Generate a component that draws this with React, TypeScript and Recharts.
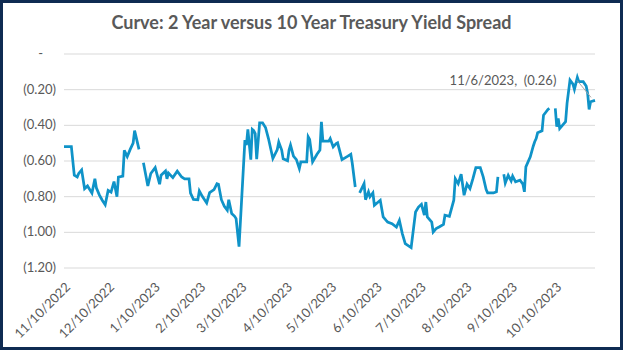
import { CartesianGrid, LabelList, Line, LineChart, XAxis, YAxis } from 'recharts';

const baseDate = Date.UTC(2022, 10, 10);

// days since 11/10/2022, null spread = no quote that day
const days = [
  0, 5, 7, 9, 10, 12, 14, 16, 19, 21, 22, 24, 26, 28, 30, 32, 34, 36, 37, 40,
  41, 43, 45, 47, 48, 51, 52, 54, 57, 59, 62, 65, 66, 69, 70, 71, 74, 77, 80,
  82, 85, 86, 88, 91, 92, 94, 97, 99, 102, 104, 105, 107, 109, 111, 112, 114,
  116, 117, 119, 123, 124, 125, 127, 128, 129, 130, 131, 133, 135, 137, 139,
  142, 145, 146, 148, 149, 152, 153, 154, 156, 158, 160, 161, 165, 166, 167,
  169, 172, 174, 175, 176, 180, 181, 183, 185, 186, 189, 193, 195, 196, 198,
  199, 201, 204, 205, 207, 208, 210, 211, 215, 217, 219, 220, 223, 226, 228,
  230, 232, 236, 239, 241, 243, 245, 246, 247, 250, 251, 253, 255, 258, 259,
  262, 265, 266, 268, 270, 272, 274, 276, 278, 280, 283, 285, 287, 288, 292,
  294, 295, 296, 299, 300, 302, 304, 305, 307, 310, 312, 313, 314, 317, 319,
  320, 321, 322, 325, 326, 329, 330, 331, 334, 335, 336, 337, 339, 341, 342,
  344, 346, 347, 349, 350, 353, 355, 356, 357, 358, 361,
];

const spread = [
  -0.52, -0.52, -0.68, -0.69, -0.67, -0.65, -0.755, -0.74, -0.78, -0.7, -0.75,
  -0.79, -0.82, -0.845, -0.765, -0.775, -0.715, -0.8, -0.69, -0.685, -0.54,
  -0.575, -0.535, -0.5, -0.43, -0.535, null, -0.61, -0.74, -0.67, -0.637,
  -0.73, -0.68, -0.656, -0.7, -0.667, -0.693, -0.657, -0.69, -0.7, -0.7,
  -0.78, -0.815, -0.817, -0.768, -0.798, -0.835, -0.777, -0.76, -0.727, -0.73,
  -0.817, -0.854, -0.876, -0.817, -0.895, -0.91, -0.923, -1.08, -0.483, -0.511,
  -0.423, -0.592, -0.423, -0.43, -0.446, -0.59, -0.386, -0.386, -0.412,
  -0.474, -0.586, -0.536, -0.494, -0.539, -0.588, -0.599, -0.539, -0.511,
  -0.573, -0.592, -0.642, -0.605, -0.605, -0.464, -0.479, -0.605, -0.562,
  -0.539, -0.38, -0.489, -0.489, -0.474, -0.521, -0.502, -0.498, -0.592,
  -0.573, -0.562, -0.614, -0.746, null, -0.779, -0.727, -0.817, -0.773,
  -0.801, -0.779, -0.848, -0.82, -0.914, -0.933, -0.942, -0.951, -0.97,
  -0.933, -1.007, -1.064, -1.086, -0.886, -0.858, -0.843, -0.904, -0.83,
  -0.914, -0.942, -0.998, -0.979, -0.97, -0.955, -0.904, -0.91, -0.82,
  -0.699, -0.727, -0.674, -0.792, -0.73, -0.755, -0.699, -0.637, -0.637,
  -0.689, -0.76, -0.779, -0.779, -0.773, -0.689, null, -0.674, -0.723, -0.68,
  -0.712, -0.685, -0.717, -0.708, -0.73, -0.773, -0.633, -0.577, -0.517,
  -0.492, -0.474, -0.442, -0.431, -0.343, -0.311, -0.305, null, -0.305,
  -0.408, -0.361, -0.418, -0.399, -0.38, -0.277, -0.146, -0.169, -0.198,
  -0.131, -0.155, -0.155, -0.18, -0.221, -0.311, -0.268, -0.26,
];

const tickDates = [
  '11/10/2022', '12/10/2022', '1/10/2023', '2/10/2023', '3/10/2023', '4/10/2023',
  '5/10/2023', '6/10/2023', '7/10/2023', '8/10/2023', '9/10/2023', '10/10/2023',
];

const yTicks = [0, -0.2, -0.4, -0.6, -0.8, -1.0, -1.2];

const toDay = (s: string) => {
  const [m, d, y] = s.split('/').map(Number);
  return Math.round((Date.UTC(y, m - 1, d) - baseDate) / 86400000);
};

const dayLabel = (day: number) => {
  const d = new Date(baseDate + day * 86400000);
  return `${d.getUTCMonth() + 1}/${d.getUTCDate()}/${d.getUTCFullYear()}`;
};

const data = days.map((day, i) => ({ day, spread: spread[i] }));
const xTicks = tickDates.map(toDay);
const lastDay = days[days.length - 1];

const fmt = (v: number) => (v === 0 ? '-' : `(${Math.abs(v).toFixed(2)})`);

const FONT = 'Lato, sans-serif';
const GREY = '#595959';
const BLUE = '#0f93c8';

const XTick = ({ x, y, payload }: any) => (
  <text
    x={x + 7}
    y={y + 12}
    transform={`rotate(-45, ${x + 7}, ${y + 12})`}
    textAnchor="end"
    fontSize={13}
    fontFamily={FONT}
    fill={GREY}
  >
    {dayLabel(payload.value)}
  </text>
);

const YTick = ({ x, y, payload }: any) => (
  <text
    x={payload.value === 0 ? x - 13 : x}
    y={y}
    dy={4}
    textAnchor="end"
    fontSize={13}
    fontFamily={FONT}
    fill={GREY}
  >
    {fmt(payload.value)}
  </text>
);

const LastLabel = (props: any) => {
  const { x, y, index, value } = props;
  if (index !== data.length - 1 || value == null) return null;
  return (
    <g>
      <line x1={x - 18} y1={y - 20} x2={x - 4} y2={y - 3} stroke="#a6a6a6" strokeWidth={1} />
      <text x={x - 92} y={y - 15} textAnchor="middle" fontSize={13} fontFamily={FONT} fill={GREY}>
        {`${dayLabel(lastDay)},\u00a0 ${fmt(value)}`}
      </text>
    </g>
  );
};

export default function App() {
  return (
    <div
      style={{
        position: 'absolute',
        left: 0,
        top: 0,
        width: 623,
        height: 350,
        boxSizing: 'border-box',
        border: '3px solid #0f2b52',
        background: '#fff',
      }}
    >
      <div
        style={{
          position: 'absolute',
          left: 0,
          right: 0,
          top: 8,
          textAlign: 'center',
          fontFamily: FONT,
          fontWeight: 700,
          fontSize: 18,
          color: GREY,
        }}
      >
        Curve: 2 Year versus 10 Year Treasury Yield Spread
      </div>
      <LineChart
        width={617}
        height={344}
        data={data}
        margin={{ top: 51, right: 25, left: 0, bottom: 0 }}
      >
        <CartesianGrid vertical={false} stroke="#d9d9d9" />
        <XAxis
          type="number"
          dataKey="day"
          domain={[0, lastDay]}
          ticks={xTicks}
          tick={<XTick />}
          axisLine={false}
          tickLine={false}
          height={79}
          interval={0}
        />
        <YAxis
          type="number"
          domain={[-1.2, 0]}
          ticks={yTicks}
          tick={<YTick />}
          axisLine={false}
          tickLine={false}
          width={61}
          interval={0}
        />
        <Line
          type="linear"
          dataKey="spread"
          stroke={BLUE}
          strokeWidth={2.75}
          dot={false}
          isAnimationActive={false}
          connectNulls={false}
        >
          <LabelList dataKey="spread" content={<LastLabel />} />
        </Line>
      </LineChart>
    </div>
  );
}
